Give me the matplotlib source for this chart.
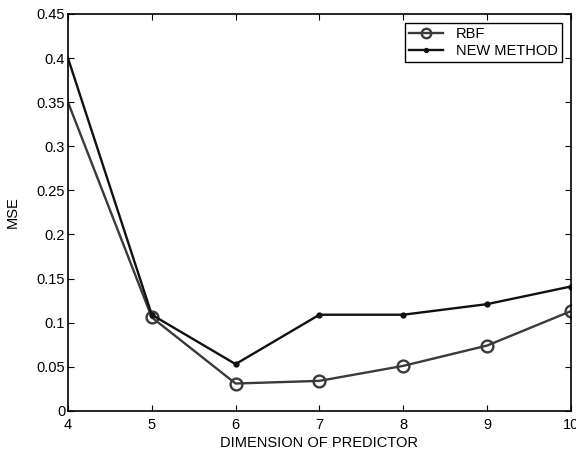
import matplotlib
matplotlib.use("Agg")
import matplotlib.pyplot as plt

dims = [4, 5, 6, 7, 8, 9, 10]
rbf_mse = [0.350, 0.106, 0.031, 0.034, 0.051, 0.074, 0.113]
new_mse = [0.400, 0.109, 0.053, 0.109, 0.109, 0.121, 0.141]
y_ticks = [0, 0.05, 0.1, 0.15, 0.2, 0.25, 0.3, 0.35, 0.4, 0.45]
y_labels = ["0", "0.05", "0.1", "0.15", "0.2", "0.25", "0.3", "0.35", "0.4", "0.45"]

plt.rcParams["font.family"] = ["Liberation Sans", "DejaVu Sans"]
plt.rcParams["font.size"] = 10.5

fig = plt.figure(figsize=(5.76, 4.51), dpi=100)
ax = fig.add_axes([0.118, 0.089, 0.873, 0.880])

# no markers at the first point (hidden behind the axis in the original)
marks = list(range(1, len(dims)))
ax.plot(dims, rbf_mse, color="#3a3a3a", lw=1.7, marker="o", ms=8.5,
        mfc="none", mec="#3a3a3a", mew=1.7, label="RBF", markevery=marks)
ax.plot(dims, new_mse, color="#111111", lw=1.7, marker="o", ms=3.5,
        mfc="#111111", mec="#111111", label="NEW METHOD", markevery=marks)

ax.set_xlim(4, 10)
ax.set_ylim(0, 0.45)
ax.set_xticks(dims)
ax.set_yticks(y_ticks)
ax.set_yticklabels(y_labels)
ax.tick_params(direction="in", top=True, right=True, length=4, width=0.8)
ax.tick_params(axis="x", pad=5)
ax.tick_params(axis="y", pad=2)
for s in ax.spines.values():
    s.set_linewidth(1.2)

ax.set_xlabel("DIMENSION OF PREDICTOR", labelpad=3)
ax.set_ylabel("MSE", labelpad=12)

leg = ax.legend(loc="upper right", fancybox=False, edgecolor="black",
                framealpha=1, borderaxespad=0.6, handlelength=2.3,
                handletextpad=0.9, labelspacing=0.2, borderpad=0.3,
                markerscale=0.8)
leg.get_frame().set_linewidth(1.0)

fig.savefig("out.png", dpi=100)
